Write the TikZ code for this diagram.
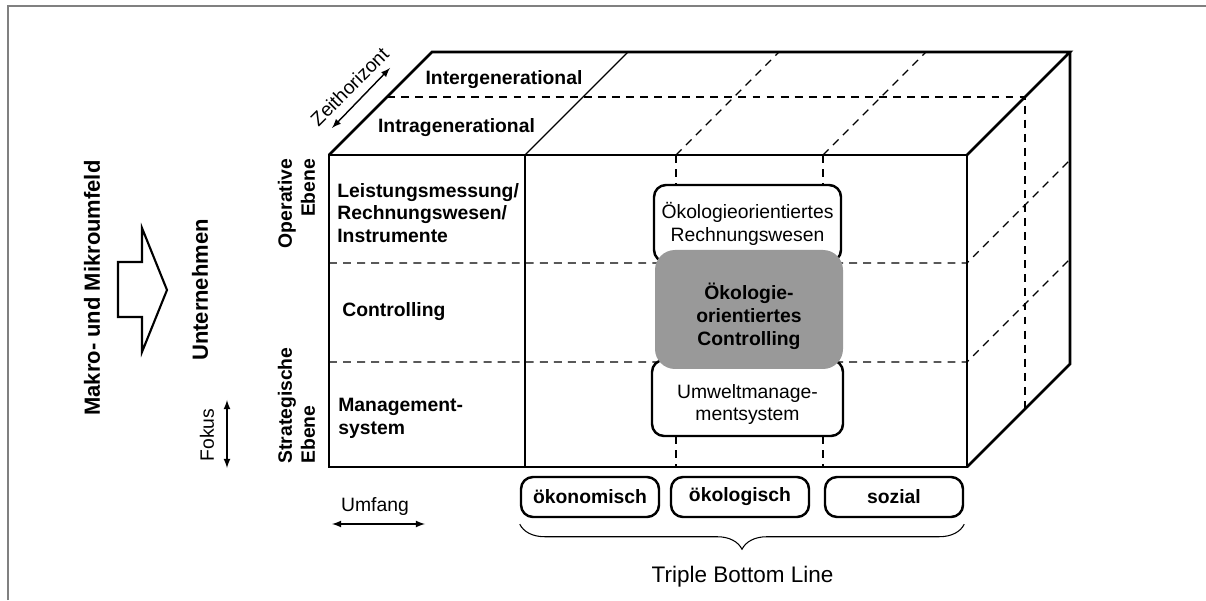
\documentclass[tikz,border=0pt]{standalone}
\usepackage{fontspec}
\setmainfont{Liberation Sans}
\usetikzlibrary{calc,decorations.pathreplacing}
\definecolor{framegray}{RGB}{128,128,128}
\definecolor{boxgray}{RGB}{153,153,153}

\begin{document}
\begin{tikzpicture}[>=latex,
    edge/.style={line width=1.6pt},
    thinline/.style={line width=0.7pt},
    hidden/.style={line width=0.7pt, dash pattern=on 4.5pt off 3.5pt},
    lbl/.style={font=\fontsize{11}{13}\selectfont\bfseries, align=left, inner sep=0pt},
    txt/.style={font=\fontsize{11}{13}\selectfont, align=center, inner sep=0pt},
    bigtxt/.style={font=\fontsize{12.5}{15}\selectfont\bfseries, inner sep=0pt},
    softbox/.style={draw, line width=1.4pt, rounded corners=0.24cm, fill=white},
    dimbox/.style={softbox, minimum width=2.76cm, minimum height=0.8cm, font=\fontsize{11}{13}\selectfont\bfseries}]
    \useasboundingbox (0,0) rectangle (24.12,12);

    % frame
    \draw[framegray, line width=1.2pt] (0.16,0) -- (0.16,11.88) -- (24.12,11.88);

    % environment -> company
    \node[bigtxt, rotate=90] (umfeld) at (1.84,6.24) {Makro- und Mikroumfeld};
    \draw[line width=1.2pt] (2.36,5.66) -- (2.36,6.76) -- (2.84,6.76) -- (2.84,7.44)
        -- (3.34,6.2) -- (2.84,4.96) -- (2.84,5.66) -- cycle;
    \node[bigtxt, rotate=90] (unternehmen) at (4.0,6.2) {Unternehmen};

    % axes
    \node[txt, rotate=90] (fokus) at (4.14,3.3) {Fokus};
    \coordinate (fokusTop) at (4.54,4.0);
    \coordinate (fokusBot) at (4.54,2.64);
    \draw[<->, line width=0.8pt] (fokusBot) -- (fokusTop);

    \node[txt] (umfang) at (7.5,1.86) {Umfang};
    \coordinate (umfangL) at (6.64,1.52);
    \coordinate (umfangR) at (8.5,1.52);
    \draw[<->, line width=0.8pt] (umfangL) -- (umfangR);

    \coordinate (zeitA) at (6.64,9.44);
    \coordinate (zeitB) at (7.8,10.64);
    \draw[<->, line width=0.8pt] (zeitA) -- (zeitB);
    \node[txt, rotate=45, anchor=south, inner sep=5pt] (zeit) at ($(zeitA)!0.5!(zeitB)$) {Zeithorizont};

    \node[lbl, rotate=90, align=right] (operativ) at (5.93,7.93) {Operative\\Ebene};
    \node[lbl, rotate=90, align=left] (strategisch) at (5.93,3.89) {Strategische\\Ebene};

    % cube: inner grid
    \draw[thinline] (10.5,8.9) -- (10.5,2.66);
    \draw[thinline] (10.5,8.9) -- (12.56,10.96);
    \draw[hidden] (13.52,8.9) -- (13.52,2.66);
    \draw[hidden] (16.46,8.9) -- (16.46,2.66);
    \draw[hidden] (13.52,8.9) -- (15.58,10.96);
    \draw[hidden] (16.46,8.9) -- (18.52,10.96);
    \draw[hidden] (6.58,6.74) -- (19.34,6.74) -- (21.4,8.8);
    \draw[hidden] (6.58,4.76) -- (19.34,4.76) -- (21.4,6.82);
    \draw[hidden] (7.74,10.06) -- (20.5,10.06) -- (20.5,3.82);

    % cube: outline
    \draw[edge] (6.58,2.66) rectangle (19.34,8.9);
    \draw[edge] (6.58,8.9) -- (8.64,10.96) -- (21.4,10.96) -- (19.34,8.9);
    \draw[edge] (21.4,10.96) -- (21.4,4.72) -- (19.34,2.66);

    % row and depth labels
    \node[lbl] (inter) at (10.08,10.4) {Intergenerational};
    \node[lbl] (intra) at (9.13,9.44) {Intragenerational};
    \node[lbl, anchor=west] (leistung) at (6.74,7.74) {Leistungsmessung/\\Rechnungswesen/\\Instrumente};
    \node[lbl, anchor=west] (controlling) at (6.84,5.76) {Controlling};
    \node[lbl, anchor=west] (management) at (6.76,3.64) {Management-\\system};

    % ecological column
    \node[softbox, txt, minimum width=3.74cm, minimum height=1.54cm] (rewe) at (14.95,7.53)
        {Ökologieorientiertes\\Rechnungswesen};
    \node[softbox, minimum width=3.82cm, minimum height=1.52cm] (umsys) at (14.95,4.04) {};
    \node[txt] (umsystxt) at (14.95,3.91) {Umweltmanage-\\mentsystem};
    \node[fill=boxgray, rounded corners=0.4cm, minimum width=3.76cm, minimum height=2.38cm] (oeco) at (14.98,5.81) {};
    \node[lbl, align=center] (oecotxt) at (14.98,5.68) {Ökologie-\\orientiertes\\Controlling};

    % triple bottom line
    \node[dimbox] (oekonomisch) at (11.8,2.06) {ökonomisch};
    \node[dimbox] (oekologisch) at (14.8,2.06) {ökologisch};
    \node[dimbox] (sozial) at (17.88,2.06) {sozial};
    \draw[line width=0.6pt, decorate, decoration={brace, mirror, amplitude=0.5cm}]
        ([yshift=-0.12cm]oekonomisch.south west) -- ([yshift=-0.12cm]sozial.south east);
    \node[font=\fontsize{12.8}{15}\selectfont] (tbl) at (14.85,0.46) {Triple Bottom Line};
\end{tikzpicture}
\end{document}
